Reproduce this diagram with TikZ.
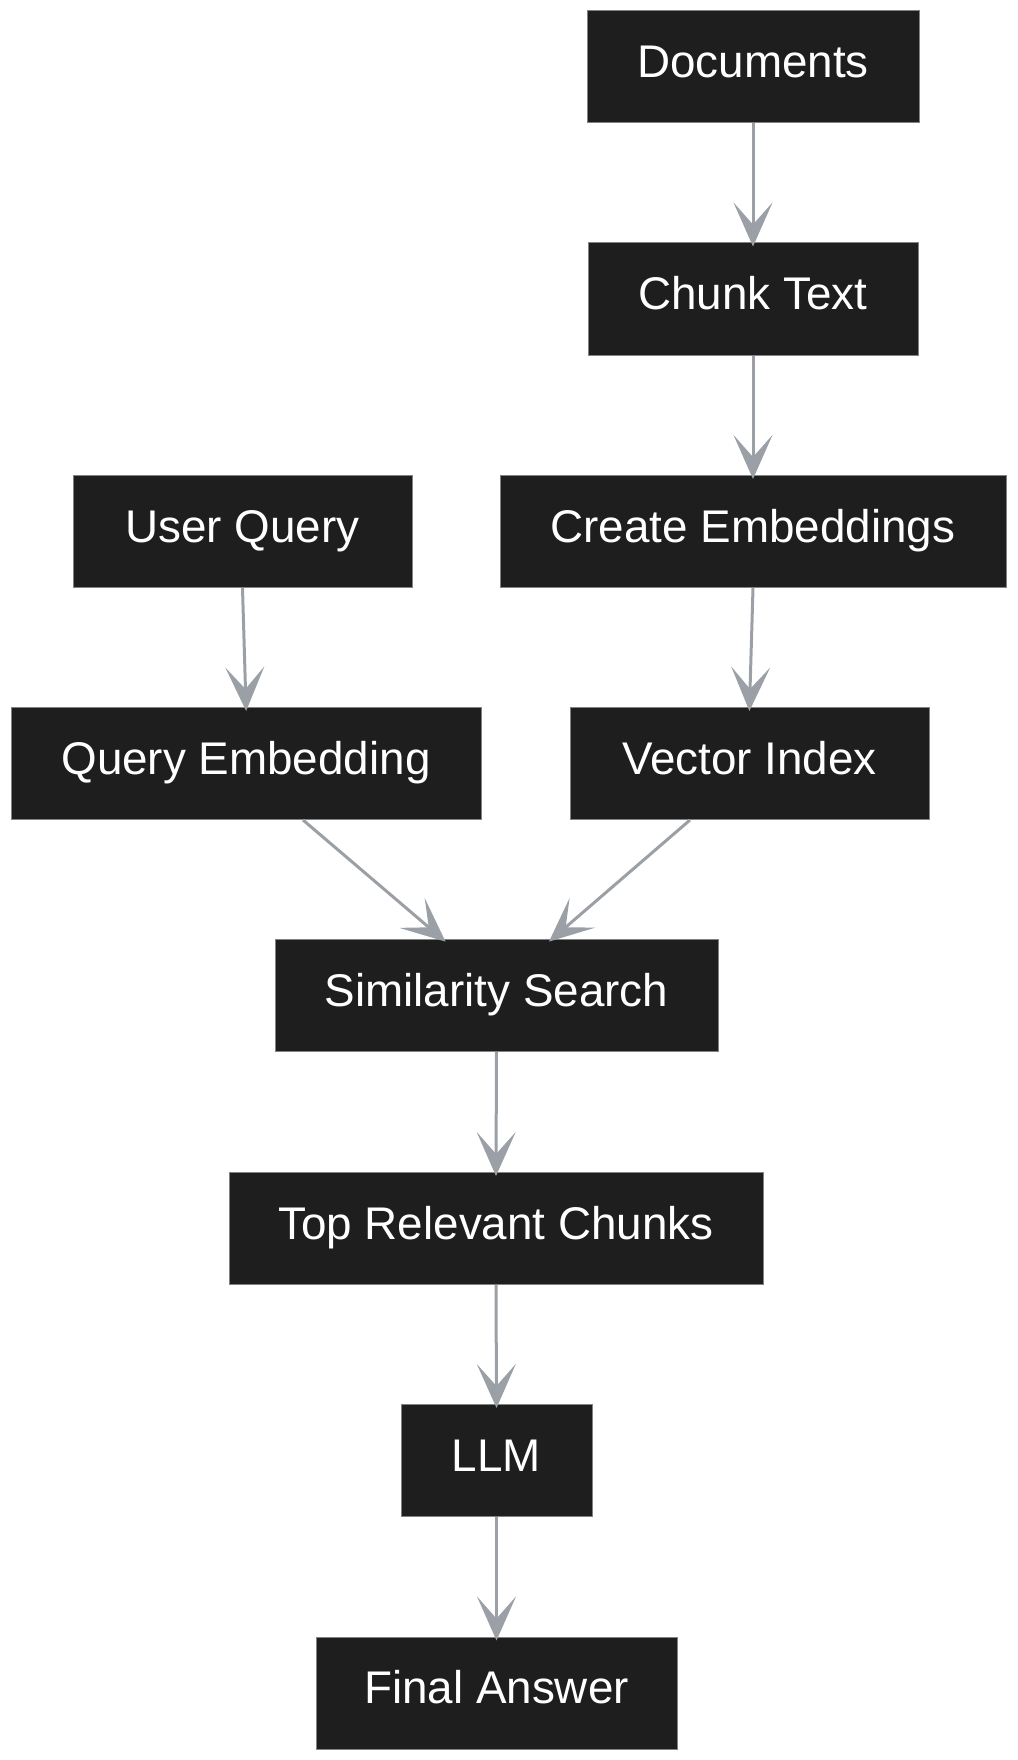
\documentclass[tikz,border=0pt]{standalone}
\usepackage{fontspec}
\setmainfont{Liberation Sans}
\usetikzlibrary{arrows.meta}
\definecolor{boxfill}{RGB}{30,30,30}
\definecolor{boxline}{RGB}{130,130,130}
\definecolor{edgegray}{RGB}{155,160,166}
\tikzset{
  flowbox/.style={draw=boxline, fill=boxfill, text=white, line width=0.5pt, inner sep=0pt,
    minimum height=56pt, text height=16.2pt, text depth=5.5pt,
    font=\fontsize{22.9}{27}\selectfont},
  flowedge/.style={draw=edgegray, line width=1.5pt, shorten >=-2pt,
    -{Stealth[length=22pt, width=19.5pt, inset=11pt]}}
}
\begin{document}
\begin{tikzpicture}[x=0.5pt,y=-0.5pt]
\useasboundingbox (0,0) rectangle (1017,1760);
\node[flowbox, minimum width=166pt] (doc) at (753,66.5) {Documents};
\node[flowbox, minimum width=165pt] (chunk) at (753,299) {Chunk Text};
\node[flowbox, minimum width=169.5pt] (uq) at (242.5,531.5) {User Query};
\node[flowbox, minimum width=253pt] (ce) at (753,531.5) {Create Embeddings};
\node[flowbox, minimum width=235pt] (qe) at (246,763.5) {Query Embedding};
\node[flowbox, minimum width=179.5pt] (vi) at (749.5,763.5) {Vector Index};
\node[flowbox, minimum width=221.5pt] (ss) at (496.5,995.5) {Similarity Search};
\node[flowbox, minimum width=267pt] (top) at (496,1228.5) {Top Relevant Chunks};
\node[flowbox, minimum width=95.5pt] (llm) at (496.5,1460.5) {LLM};
\node[flowbox, minimum width=180.5pt] (fa) at (496.5,1693) {Final Answer};
\draw[flowedge] (doc.south) -- (chunk.north);
\draw[flowedge] (chunk.south) -- (ce.north);
\draw[flowedge] (uq.south) -- (qe.north);
\draw[flowedge] (ce.south) -- (vi.north);
\draw[flowedge] ([xshift=28.5pt]qe.south) -- ([xshift=-27pt]ss.north);
\draw[flowedge] ([xshift=-29.75pt]vi.south) -- ([xshift=27.75pt]ss.north);
\draw[flowedge] (ss.south) -- (top.north);
\draw[flowedge] (top.south) -- (llm.north);
\draw[flowedge] (llm.south) -- (fa.north);
\end{tikzpicture}
\end{document}
